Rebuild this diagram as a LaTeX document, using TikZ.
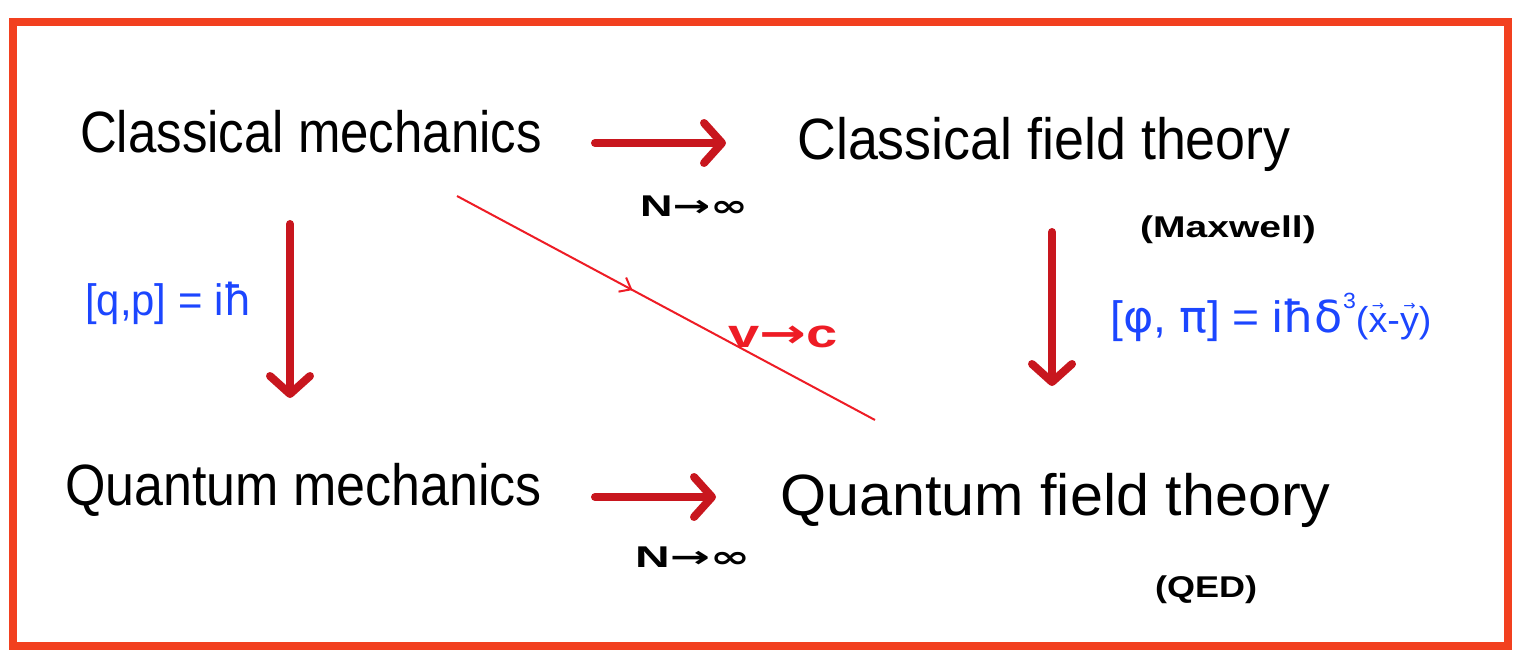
\documentclass[tikz,border=0pt]{standalone}
\usepackage{fontspec}
\usepackage{graphicx}
\setmainfont{Liberation Sans}
\newfontfamily\dvs{DejaVu Sans}
\usetikzlibrary{arrows.meta,decorations.markings}
\definecolor{framec}{HTML}{F2401F}
\definecolor{arrc}{HTML}{C8161E}
\definecolor{bluec}{HTML}{1C46FF}
\definecolor{thinc}{HTML}{EE1C25}
\newcommand\ovarr[1]{\setbox0\hbox{#1}\leavevmode\rlap{\raisebox{0.62em}{\makebox[\wd0]{\fontsize{14}{14}\selectfont\dvs →}}}\box0}
\begin{document}
\begin{tikzpicture}[x=1pt,y=-1pt,
  bigtext/.style={font=\fontsize{52}{60}\selectfont, anchor=base west, inner sep=0pt},
  smalltext/.style={font=\fontsize{30}{34}\selectfont\bfseries, anchor=base west, inner sep=0pt},
  bluetext/.style={font=\fontsize{44}{50}\selectfont, text=bluec, anchor=base west, inner sep=0pt},
  bigarrow/.style={draw=arrc, line width=8pt, line cap=round, line join=round,
    -{Straight Barb[length=18pt,width=40pt,line cap=round,line join=round]}},
  thinarrow/.style={draw=thinc, line width=2pt,
    postaction={decorate},
    decoration={markings, mark=at position 0.42 with {\arrow{Straight Barb[length=10pt,width=16pt]}}}}
]
\useasboundingbox (0,0) rectangle (1518,668);
\fill[white] (0,0) rectangle (1518,668);
\draw[framec, line width=8pt] (13,22) rectangle (1508,646);

% main texts
\node[bigtext] (cm) at (80,153) {\scalebox{0.98}[1.12]{Classical mechanics}};
\node[bigtext] (cft) at (797,160) {\scalebox{1.035}[1.12]{Classical field theory}};
\node[bigtext] (qm) at (65,505) {\scalebox{1.0}[1.12]{Quantum mechanics}};
\node[bigtext] (qft) at (780,515) {\scalebox{1.14}[1.12]{Quantum field theory}};

% small labels
\node[smalltext] (n1) at (640,217) {\scalebox{1.5}[1]{N{\dvs →}{\dvs ∞}}};
\node[smalltext] (n2) at (635,567) {\scalebox{1.6}[1]{N{\dvs →}{\dvs ∞}}};
\node[smalltext] (mx) at (1140,238) {\scalebox{1.3}[1]{(Maxwell)}};
\node[smalltext] (qed) at (1155,597) {\scalebox{1.2}[1]{(QED)}};
\node[bluetext] (qp) at (85,316) {\scalebox{0.95}[1]{[q,p] = i{\dvs ħ}}};
\node[bluetext] (pp) at (1110,333) {\scalebox{1.05}[1]{[{\dvs φ}, {\dvs π}] = i{\dvs ħ}{\dvs δ}\raisebox{0.55em}{\fontsize{22}{22}\selectfont 3}{\fontsize{36}{40}\selectfont(\ovarr{x}-\ovarr{y})}}};
\node[font=\fontsize{40}{44}\selectfont\bfseries, text=thinc, anchor=base west, inner sep=0pt] (vc) at (728,347) {\scalebox{1.4}[1]{v{\dvs →}c}};

% arrow end points
\coordinate (a1s) at (595,143);
\coordinate (a1e) at (726,143);
\coordinate (a2s) at (290,224);
\coordinate (a2e) at (290,398);
\coordinate (a3s) at (1052,232);
\coordinate (a3e) at (1052,386);
\coordinate (a4s) at (595,497);
\coordinate (a4e) at (716,497);
\coordinate (ds) at (457,196);
\coordinate (de) at (875,420);

\draw[bigarrow] (a1s) -- (a1e);
\draw[bigarrow] (a2s) -- (a2e);
\draw[bigarrow] (a3s) -- (a3e);
\draw[bigarrow] (a4s) -- (a4e);
\draw[thinarrow] (ds) -- (de);
\end{tikzpicture}
\end{document}
